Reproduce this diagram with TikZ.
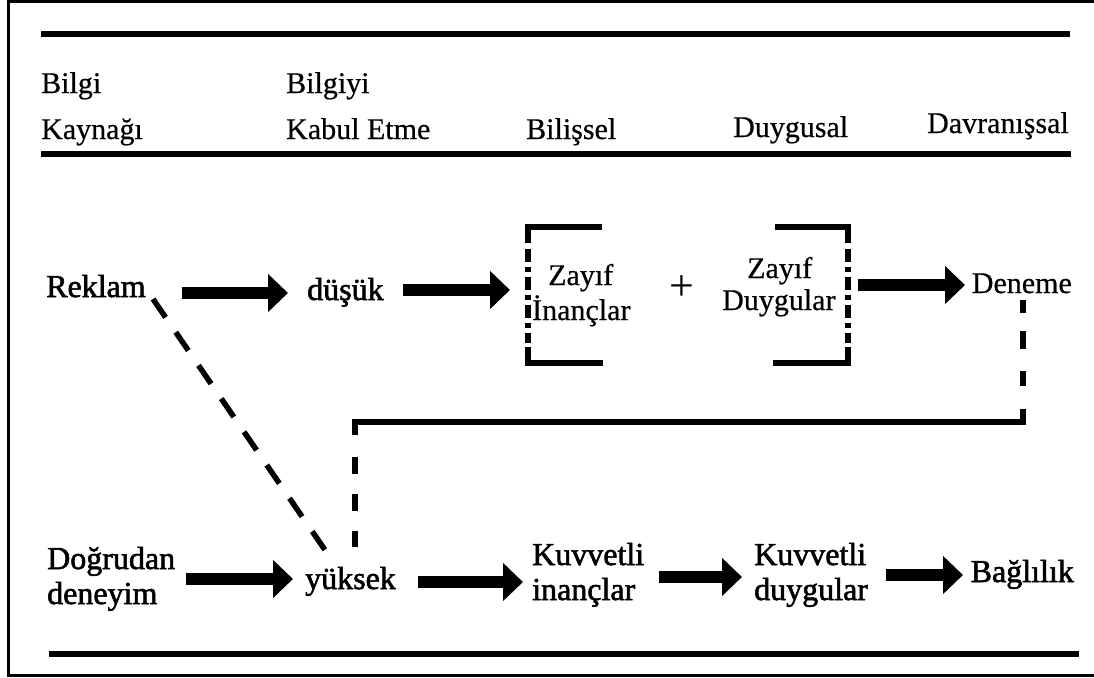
\documentclass[tikz,border=0pt]{standalone}
\usepackage{fontspec}
\setmainfont{Liberation Serif}
\newfontfamily\lightface[FakeBold=0.5]{Liberation Serif}
\newfontfamily\darkface[FakeBold=1.8]{Liberation Serif}
\usetikzlibrary{arrows.meta}
\begin{document}
\begin{tikzpicture}[x=1pt,y=-1pt,
  hdr/.style={anchor=base west, inner sep=0pt, font=\lightface\fontsize{30}{36}\selectfont},
  lbl/.style={anchor=base west, inner sep=0pt, font=\lightface\fontsize{30}{36}\selectfont},
  blbl/.style={anchor=base west, inner sep=0pt, font=\darkface\fontsize{32}{38}\selectfont},
  rulebar/.style={line width=6pt},
  frameline/.style={line width=2.5pt},
  bigarrow/.style={line width=12pt, -{Triangle[length=20pt,width=37pt]}},
  brk/.style={line width=5.5pt},
  brkdash/.style={line width=5.5pt, dash pattern=on 13pt off 5pt on 5pt off 5pt},
  diag/.style={line width=5.5pt, dash pattern=on 22.25pt off 18pt},
  fb/.style={line width=6pt},
]
\useasboundingbox (0,0) rectangle (1094,677);

% outer frame (open on the right)
\draw[frameline] (1094,1.5) -- (8.5,1.5) -- (8.5,675.5) -- (1094,675.5);

% table rules
\draw[rulebar] (41,34.5) -- (1070,34.5);
\draw[rulebar] (41,154) -- (1071,154);
\draw[rulebar] (49,654) -- (1079,654);

% column headings
\node[hdr] (hsrc1) at (41,93) {Bilgi};
\node[hdr] (hsrc2) at (41,139) {Kaynağı};
\node[hdr] (hacc1) at (286,93) {Bilgiyi};
\node[hdr] (hacc2) at (286,139) {Kabul Etme};
\node[hdr] (hcog) at (526,139) {Bilişsel};
\node[hdr] (haff) at (733,137) {Duygusal};
\node[hdr, anchor=base east] (hbeh) at (1069,133) {Davranışsal};

% upper path: advertising
\node[blbl] (reklam) at (46,297) {Reklam};
\node[blbl] (dusuk) at (307,300) {düşük};
\node[lbl] (zay1) at (548,285) {Zayıf};
\node[lbl] (inanc) at (532,320) {İnançlar};
\node[inner sep=0pt, font=\fontsize{44}{44}\selectfont] (plus) at (682,288) {+};
\node[lbl] (zay2) at (747,278) {Zayıf};
\node[lbl] (duyg) at (722,310) {Duygular};
\node[lbl, anchor=base east] (deneme) at (1072,293) {Deneme};

% lower path: direct experience
\node[blbl] (dogr1) at (47,569) {Doğrudan};
\node[blbl] (dogr2) at (47,604) {deneyim};
\node[blbl] (yuksek) at (305,589) {yüksek};
\node[blbl] (kin1) at (532,565) {Kuvvetli};
\node[blbl] (kin2) at (532,600) {inançlar};
\node[blbl] (kdu1) at (754,565) {Kuvvetli};
\node[blbl] (kdu2) at (754,600) {duygular};
\node[blbl, anchor=base east] (bagli) at (1074,582) {Bağlılık};

% brackets around the weak beliefs and weak feelings
\draw[brk] (602,227) -- (528,227) -- (528,243);
\draw[brkdash] (528,249) -- (528,343);
\draw[brk] (528,347) -- (528,363) -- (603,363);
\draw[brk] (775,227) -- (848,227) -- (848,243);
\draw[brkdash] (848,249) -- (848,343);
\draw[brk] (848,347) -- (848,363) -- (773,363);

% arrow end points
\coordinate (a1s) at (182,293); \coordinate (a1e) at (288,293);
\coordinate (a2s) at (403,290); \coordinate (a2e) at (510,290);
\coordinate (a3s) at (858,285); \coordinate (a3e) at (965,285);
\coordinate (b1s) at (186,579); \coordinate (b1e) at (293,579);
\coordinate (b2s) at (418,582); \coordinate (b2e) at (523,582);
\coordinate (b3s) at (659,577); \coordinate (b3e) at (742,577);
\coordinate (b4s) at (886,575); \coordinate (b4e) at (963,575);

\draw[bigarrow] (a1s) -- (a1e);
\draw[bigarrow] (a2s) -- (a2e);
\draw[bigarrow] (a3s) -- (a3e);
\draw[bigarrow] (b1s) -- (b1e);
\draw[bigarrow] (b2s) -- (b2e);
\draw[bigarrow] (b3s) -- (b3e);
\draw[bigarrow] (b4s) -- (b4e);

% advertising can also lead to high acceptance
\coordinate (dgs) at (153,299);
\coordinate (dge) at (325,550);
\draw[diag] (dgs) -- (dge);

% trial feeds back to high acceptance
\coordinate (fbtop) at (1023,300);
\coordinate (fbc1) at (1023,422);
\coordinate (fbc2) at (355,422);
\coordinate (fbend) at (355,547);
\draw[fb, dash pattern=on 13pt off 18pt on 18pt off 22pt on 15pt off 23pt] (fbtop) -- ([yshift=13pt]fbc1);
\draw[fb] ([yshift=13pt]fbc1) -- (fbc1) -- (fbc2) -- ([yshift=-13pt]fbc2);
\draw[fb, dash pattern=on 17pt off 20pt] ([yshift=-35pt]fbc2) -- (fbend);
\end{tikzpicture}
\end{document}
